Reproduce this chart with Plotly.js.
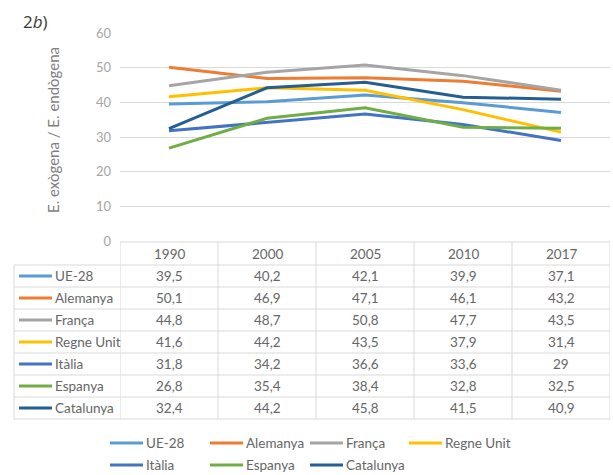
<!DOCTYPE html>
<html>
<head>
<meta charset="utf-8">
<script src="https://cdn.plot.ly/plotly-3.0.1.min.js"></script>
<style>
  html, body { margin: 0; padding: 0; background: white; }
  #chart { width: 613px; height: 475px; }
</style>
</head>
<body>
<div id="chart"></div>
<script>
/* ── data ─────────────────────────────────────────────────── */
const YEARS = ['1990', '2000', '2005', '2010', '2017'];
const SERIES = ['UE-28', 'Alemanya', 'França', 'Regne Unit', 'Itàlia', 'Espanya', 'Catalunya'];

const UE28      = [39.5, 40.2, 42.1, 39.9, 37.1];
const ALEMANYA  = [50.1, 46.9, 47.1, 46.1, 43.2];
const FRANCA    = [44.8, 48.7, 50.8, 47.7, 43.5];
const REGNE     = [41.6, 44.2, 43.5, 37.9, 31.4];
const ITALIA    = [31.8, 34.2, 36.6, 33.6, 29];
const ESPANYA   = [26.8, 35.4, 38.4, 32.8, 32.5];
const CATALUNYA = [32.4, 44.2, 45.8, 41.5, 40.9];

const VALUES = [UE28, ALEMANYA, FRANCA, REGNE, ITALIA, ESPANYA, CATALUNYA];

/* Excel office palette */
const COLORS = ['#5b9bd5', '#ed7d31', '#a5a5a5', '#ffc000', '#4472c4', '#70ad47', '#255e91'];

/* ── page geometry (pixels) ───────────────────────────────── */
const W = 613, H = 475;
const PX = x => x / W;
const PY = y => 1 - y / H;

const FONT = 'Lato, "Open Sans", sans-serif';
const FS   = 13.5;
const TXT  = '#666666';
const GRID = '#d9d9d9';

const PLOT_L = 120, PLOT_R = 610, PLOT_T = 33, PLOT_B = 241;
const TABLE_LEFT = 14;
const ROW_TOP = [242, 265, 287, 309, 331, 353, 375, 397, 419];  // header + 7 rows

const fmt = v => String(v).replace('.', ',');

/* ── traces ───────────────────────────────────────────────── */
const traces = SERIES.map((name, i) => ({
  type: 'scatter', mode: 'lines',
  x: YEARS, y: VALUES[i], name,
  line: { color: COLORS[i], width: 3 },
  showlegend: false,
  hoverinfo: 'skip',
}));

/* ── table: grid lines, keys, text ────────────────────────── */
const shapes = [];
const annotations = [];
const tline = { color: GRID, width: 1 };

function label(text, x, y, xref, opts) {
  annotations.push(Object.assign({
    text, xref, yref: 'paper', x, y: PY(y), yanchor: 'middle',
    showarrow: false, font: { family: FONT, size: FS, color: TXT },
  }, opts || {}));
}

// horizontal lines
ROW_TOP.forEach((y, k) => {
  shapes.push({
    type: 'line', xref: 'paper', yref: 'paper', layer: 'below',
    x0: PX(k === 0 ? PLOT_L : TABLE_LEFT), x1: PX(PLOT_R),
    y0: PY(y), y1: PY(y), line: tline,
  });
});
// vertical lines at category boundaries
for (let c = 0; c <= YEARS.length; c++) {
  shapes.push({
    type: 'line', xref: 'x', yref: 'paper', layer: 'below',
    x0: c - 0.5, x1: c - 0.5, y0: PY(ROW_TOP[0]), y1: PY(ROW_TOP[8]), line: tline,
  });
}
shapes.push({
  type: 'line', xref: 'paper', yref: 'paper', layer: 'below',
  x0: PX(TABLE_LEFT), x1: PX(TABLE_LEFT), y0: PY(ROW_TOP[1]), y1: PY(ROW_TOP[8]), line: tline,
});

// header years (category index on the x axis)
YEARS.forEach((yr, c) => label(yr, c, (ROW_TOP[0] + ROW_TOP[1]) / 2, 'x'));

// series rows
SERIES.forEach((name, i) => {
  const yc = (ROW_TOP[i + 1] + ROW_TOP[i + 2]) / 2;
  shapes.push({
    type: 'line', xref: 'paper', yref: 'paper',
    x0: PX(19), x1: PX(52), y0: PY(yc), y1: PY(yc),
    line: { color: COLORS[i], width: 3 },
  });
  label(name, PX(53), yc, 'paper', { xanchor: 'left' });
  VALUES[i].forEach((v, c) => label(fmt(v), c, yc, 'x'));
});

/* ── bottom legend (two rows, Excel style) ────────────────── */
const LEG_POS = [
  [110, 443], [210, 443], [310, 443], [409, 443],
  [110, 465], [210, 465], [310, 465],
];
SERIES.forEach((name, i) => {
  const [lx, ly] = LEG_POS[i];
  shapes.push({
    type: 'line', xref: 'paper', yref: 'paper',
    x0: PX(lx), x1: PX(lx + 33), y0: PY(ly), y1: PY(ly),
    line: { color: COLORS[i], width: 3 },
  });
  label(name, PX(lx + 34), ly, 'paper', { xanchor: 'left' });
});

/* ── panel label + axis title ─────────────────────────────── */
label('2<i>b</i>)', PX(21), 21, 'paper', {
  xanchor: 'left', font: { family: '"Open Sans", sans-serif', size: 17, color: '#3a3a3a' },
});
label('E. exògena / E. endògena', PX(53), 130, 'paper', {
  textangle: -90, xanchor: 'center', font: { family: FONT, size: 15, color: '#7f7f7f' },
});

/* ── layout ───────────────────────────────────────────────── */
const layout = {
  width: W, height: H,
  paper_bgcolor: 'white', plot_bgcolor: 'white',
  margin: { l: 0, r: 0, t: 0, b: 0 },
  font: { family: FONT, size: FS, color: TXT },
  xaxis: {
    type: 'category', domain: [PX(PLOT_L), PX(PLOT_R)], range: [-0.5, 4.5],
    showticklabels: false, showgrid: false, zeroline: false, showline: false, ticks: '',
    fixedrange: true,
  },
  yaxis: {
    domain: [PY(PLOT_B), PY(PLOT_T)], range: [0, 60], dtick: 10,
    showgrid: true, gridcolor: GRID, gridwidth: 1, zeroline: false, showline: false,
    ticks: '', ticklabelstandoff: 8,
    tickfont: { family: FONT, size: 13, color: '#a6a6a6' },
    fixedrange: true,
  },
  shapes, annotations,
  showlegend: false,
};

Plotly.newPlot('chart', traces, layout, { displayModeBar: false, staticPlot: true });
</script>
</body>
</html>
